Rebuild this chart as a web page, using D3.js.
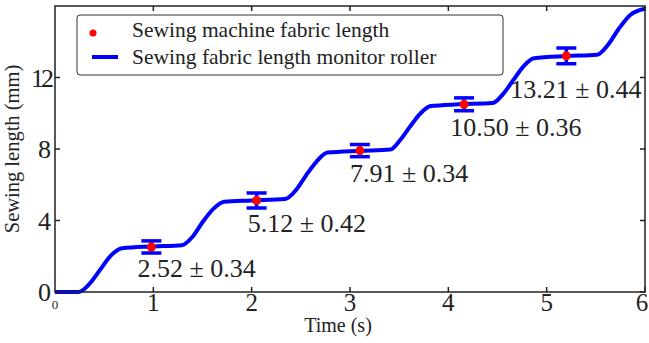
<!DOCTYPE html>
<html>
<head>
<meta charset="utf-8">
<script src="https://cdn.jsdelivr.net/npm/d3@7"></script>
<style>
  body { margin: 0; background: #fff; }
  text { font-family: "Liberation Serif", "DejaVu Serif", serif; fill: #222; }
</style>
</head>
<body>
<svg id="chart" width="649" height="343"></svg>
<script>
// measured points (time in s, length in mm)
const pointTimes = [0.98, 2.05, 3.10, 4.16, 5.20];
const pointValues = [2.52, 5.12, 7.91, 10.50, 13.21];
const pointErrors = [0.34, 0.42, 0.34, 0.36, 0.44];
// where the "value ± err" labels sit, data coords
const labelTimes = [0.84, 1.96, 3.00, 4.02, 4.63];
const labelValues = [0.84, 3.38, 6.13, 8.75, 10.84];

// roller curve
const rollerTimes = [0, 0.24, 0.35, 0.46, 0.57, 0.68, 1.0, 1.29, 1.40, 1.50, 1.61, 1.72, 2.0, 2.34,
  2.45, 2.55, 2.66, 2.77, 3.1, 3.41, 3.51, 3.61, 3.71, 3.82, 4.1, 4.45, 4.56, 4.66, 4.76, 4.87,
  5.2, 5.51, 5.62, 5.73, 5.85, 6.0];
const rollerValues = [0, 0, 0.45, 1.25, 2.05, 2.45, 2.55, 2.62, 3.1, 3.9, 4.65, 5.05, 5.12, 5.2,
  5.7, 6.5, 7.3, 7.8, 7.9, 7.97, 8.5, 9.25, 9.95, 10.4, 10.5, 10.57, 11.1, 11.85, 12.6, 13.08,
  13.2, 13.27, 13.8, 14.7, 15.5, 15.85];

const xTicks = [1, 2, 3, 4, 5, 6];
const yTicks = [0, 4, 8, 12];

const svg = d3.select('#chart');
const margin = {top: 6, right: 4, bottom: 51, left: 55};
const width = +svg.attr('width') - margin.left - margin.right;
const height = +svg.attr('height') - margin.top - margin.bottom;
const g = svg.append('g').attr('transform', 'translate(' + margin.left + ',' + margin.top + ')');

const x = d3.scaleLinear().domain([0, 6]).range([0, width]);
const y = d3.scaleLinear().domain([0, 16]).range([height, 0]);

// roller line
const line = d3.line()
  .x((d, i) => x(rollerTimes[i]))
  .y(d => y(d))
  .curve(d3.curveMonotoneX);
g.append('path')
  .datum(rollerValues)
  .attr('d', line)
  .attr('fill', 'none')
  .attr('stroke', '#0000ff')
  .attr('stroke-width', 4);

// error bars
const bars = g.selectAll('.err').data(pointValues).enter().append('g').attr('class', 'err')
  .attr('stroke', '#0000ff').attr('stroke-width', 3.5);
bars.append('line')
  .attr('x1', (d, i) => x(pointTimes[i])).attr('x2', (d, i) => x(pointTimes[i]))
  .attr('y1', (d, i) => y(d - pointErrors[i])).attr('y2', (d, i) => y(d + pointErrors[i]));
bars.append('line')
  .attr('x1', (d, i) => x(pointTimes[i]) - 10).attr('x2', (d, i) => x(pointTimes[i]) + 10)
  .attr('y1', (d, i) => y(d - pointErrors[i])).attr('y2', (d, i) => y(d - pointErrors[i]));
bars.append('line')
  .attr('x1', (d, i) => x(pointTimes[i]) - 10).attr('x2', (d, i) => x(pointTimes[i]) + 10)
  .attr('y1', (d, i) => y(d + pointErrors[i])).attr('y2', (d, i) => y(d + pointErrors[i]));

g.selectAll('.pt').data(pointValues).enter().append('circle')
  .attr('class', 'pt')
  .attr('cx', (d, i) => x(pointTimes[i]))
  .attr('cy', d => y(d))
  .attr('r', 4.5)
  .attr('fill', '#ff0000');

g.selectAll('.lbl').data(pointValues).enter().append('text')
  .attr('class', 'lbl')
  .attr('x', (d, i) => x(labelTimes[i]))
  .attr('y', (d, i) => y(labelValues[i]))
  .attr('font-size', 26)
  .text((d, i) => d.toFixed(2) + ' \u00b1 ' + pointErrors[i].toFixed(2));

// frame + inward ticks
g.append('rect').attr('width', width).attr('height', height)
  .attr('fill', 'none').attr('stroke', '#222').attr('stroke-width', 1.5);

const tk = 5;
xTicks.forEach(t => {
  g.append('line').attr('x1', x(t)).attr('x2', x(t)).attr('y1', height).attr('y2', height - tk)
    .attr('stroke', '#222').attr('stroke-width', 1.5);
  g.append('line').attr('x1', x(t)).attr('x2', x(t)).attr('y1', 0).attr('y2', tk)
    .attr('stroke', '#222').attr('stroke-width', 1.5);
  g.append('text').attr('x', t === 6 ? x(t) - 3 : x(t)).attr('y', height + 19)
    .attr('text-anchor', 'middle').attr('font-size', 25).text(t);
});
g.append('text').attr('x', x(0)).attr('y', height + 17)
  .attr('text-anchor', 'middle').attr('font-size', 13).text('0');

yTicks.forEach(t => {
  g.append('line').attr('x1', 0).attr('x2', tk).attr('y1', y(t)).attr('y2', y(t))
    .attr('stroke', '#222').attr('stroke-width', 1.5);
  g.append('line').attr('x1', width).attr('x2', width - tk).attr('y1', y(t)).attr('y2', y(t))
    .attr('stroke', '#222').attr('stroke-width', 1.5);
  g.append('text').attr('x', -4).attr('y', y(t)).attr('dy', '0.35em')
    .attr('text-anchor', 'end').attr('font-size', 26)
    .attr('letter-spacing', t === 12 ? -3 : 0)
    .text(t);
});

// axis titles
g.append('text').attr('x', 283).attr('y', height + 40)
  .attr('text-anchor', 'middle').attr('font-size', 20).text('Time (s)');
g.append('text')
  .attr('transform', 'translate(' + (-36) + ',' + (height / 2) + ') rotate(-90)')
  .attr('text-anchor', 'middle').attr('font-size', 20.5).text('Sewing length (mm)');

// legend
const lg = svg.append('g').attr('transform', 'translate(77,15)');
lg.append('rect').attr('width', 426).attr('height', 60).attr('rx', 3)
  .attr('fill', '#fff').attr('stroke', '#333').attr('stroke-width', 1);
lg.append('circle').attr('cx', 16).attr('cy', 18).attr('r', 3.5).attr('fill', '#ff0000');
lg.append('line').attr('x1', 15).attr('x2', 41).attr('y1', 42).attr('y2', 42)
  .attr('stroke', '#0000ff').attr('stroke-width', 4);
lg.append('text').attr('x', 55).attr('y', 22).attr('font-size', 21.5).text('Sewing machine fabric length');
lg.append('text').attr('x', 55).attr('y', 49).attr('font-size', 21.5).text('Sewing fabric length monitor roller');
</script>
</body>
</html>
